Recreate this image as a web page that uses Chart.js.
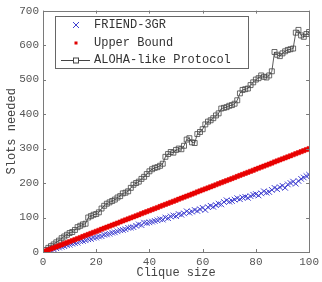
<!DOCTYPE html>
<html>
<head>
<meta charset="utf-8">
<script src="https://cdn.jsdelivr.net/npm/chart.js@4.4.0/dist/chart.umd.min.js"></script>
<style>
  html, body { margin: 0; padding: 0; background: #fff; }
  canvas { display: block; }
</style>
</head>
<body>
<canvas id="slotsChart" width="322" height="282"></canvas>
<script>
// clique sizes 1..100
var cliqueSizes = [];
for (var i = 1; i <= 100; i++) cliqueSizes.push(i);

var seriesNames = ['FRIEND-3GR', 'Upper Bound', 'ALOHA-like Protocol'];

var friendSlots = [
    2, 4, 7, 8, 11, 13, 15, 17, 20, 21,
    24, 26, 27, 31, 32, 34, 37, 38, 41, 42,
    45, 46, 50, 51, 53, 56, 57, 60, 63, 64,
    66, 70, 71, 72, 76, 80, 78, 85, 84, 86,
    88, 90, 92, 95, 94, 100, 98, 103, 106, 104,
    110, 108, 112, 118, 114, 117, 122, 119, 124, 128,
    122, 130, 134, 131, 136, 140, 138, 145, 150, 146,
    148, 152, 156, 153, 158, 160, 157, 162, 166, 168,
    164, 170, 176, 172, 174, 180, 186, 182, 188, 192,
    186, 196, 200, 204, 198, 206, 212, 216, 220, 224
];

var upperBound = [
    3, 6, 9, 12, 15, 18, 21, 24, 27, 30,
    33, 36, 39, 42, 45, 48, 51, 54, 57, 60,
    63, 66, 69, 72, 75, 78, 81, 84, 87, 90,
    93, 96, 99, 102, 105, 108, 111, 114, 117, 120,
    123, 126, 129, 132, 135, 138, 141, 144, 147, 150,
    153, 156, 159, 162, 165, 168, 171, 174, 177, 180,
    183, 186, 189, 192, 195, 198, 201, 204, 207, 210,
    213, 216, 219, 222, 225, 228, 231, 234, 237, 240,
    243, 246, 249, 252, 255, 258, 261, 264, 267, 270,
    273, 276, 279, 282, 285, 288, 291, 294, 297, 300
];

var alohaSlots = [
    6, 12, 17, 22, 28, 33, 40, 45, 50, 55,
    58, 64, 72, 76, 80, 82, 100, 104, 108, 110,
    115, 126, 134, 140, 144, 148, 152, 158, 162, 170,
    172, 176, 186, 195, 200, 204, 212, 218, 226, 234,
    240, 244, 246, 250, 256, 276, 284, 290, 288, 296,
    300, 298, 308, 326, 330, 318, 316, 342, 348, 356,
    370, 378, 382, 388, 396, 402, 416, 418, 420, 424,
    426, 430, 440, 460, 470, 472, 474, 484, 492, 500,
    504, 512, 508, 506, 512, 524, 580, 572, 568, 576,
    582, 586, 588, 590, 636, 644, 628, 624, 632, 638
];

var xTicks = [0, 20, 40, 60, 80, 100];
var yTicks = [0, 100, 200, 300, 400, 500, 600, 700];

function toPoints(values) {
    return values.map(function (v, i) { return { x: cliqueSizes[i], y: v }; });
}

var monoFont = '"Liberation Mono", "DejaVu Sans Mono", monospace';
var frameColor = '#7a7a7a';

// MATLAB style box with inward ticks on all four sides, plus the legend
var boxPlugin = {
    id: 'boxTicks',
    afterDatasetsDraw: function (chart) {
        var ctx = chart.ctx;
        var a = chart.chartArea;
        var xs = chart.scales.x, ys = chart.scales.y;
        ctx.save();
        ctx.strokeStyle = frameColor;
        ctx.lineWidth = 1;
        ctx.strokeRect(Math.round(a.left) + 0.5, Math.round(a.top) + 0.5,
            Math.round(a.right - a.left), Math.round(a.bottom - a.top));
        ctx.beginPath();
        xTicks.forEach(function (t) {
            var px = Math.round(xs.getPixelForValue(t)) + 0.5;
            ctx.moveTo(px, a.bottom); ctx.lineTo(px, a.bottom - 3);
            ctx.moveTo(px, a.top); ctx.lineTo(px, a.top + 3);
        });
        yTicks.forEach(function (t) {
            var py = Math.round(ys.getPixelForValue(t)) + 0.5;
            ctx.moveTo(a.left, py); ctx.lineTo(a.left + 3, py);
            ctx.moveTo(a.right, py); ctx.lineTo(a.right - 3, py);
        });
        ctx.stroke();
        ctx.restore();
    },
    afterDraw: function (chart) {
        var ctx = chart.ctx;
        ctx.save();
        ctx.fillStyle = '#fff';
        ctx.fillRect(55, 16, 193, 52);
        ctx.strokeStyle = '#666';
        ctx.lineWidth = 1;
        ctx.strokeRect(55.5, 16.5, 193, 52);
        ctx.font = '12px ' + monoFont;
        ctx.textBaseline = 'middle';
        ctx.fillStyle = '#333';
        var rows = [25, 43, 60];
        rows.forEach(function (y, i) {
            ctx.fillText(seriesNames[i], 94, y);
        });
        // marker samples
        ctx.strokeStyle = '#4040d0';
        ctx.beginPath();
        ctx.moveTo(73, 22); ctx.lineTo(79, 28);
        ctx.moveTo(79, 22); ctx.lineTo(73, 28);
        ctx.stroke();
        ctx.fillStyle = '#e00000';
        ctx.fillRect(74.5, 41.5, 3, 3);
        ctx.strokeStyle = '#444';
        ctx.beginPath();
        ctx.moveTo(61, 60.5); ctx.lineTo(90, 60.5);
        ctx.stroke();
        ctx.fillStyle = '#fff';
        ctx.fillRect(73.5, 58, 5, 5);
        ctx.strokeRect(73.5, 58, 5, 5);
        ctx.restore();
    }
};

var ctx = document.getElementById('slotsChart').getContext('2d');
var slotsChart = new Chart(ctx, {
    type: 'scatter',
    data: {
        datasets: [{
            label: seriesNames[0],
            data: toPoints(friendSlots),
            showLine: false,
            pointStyle: 'crossRot',
            pointRadius: 4,
            borderColor: '#4040d0',
            borderWidth: 1,
            order: 3
        }, {
            label: seriesNames[1],
            data: toPoints(upperBound),
            showLine: false,
            pointStyle: 'rect',
            pointRadius: 3,
            backgroundColor: '#e80000',
            borderColor: '#e80000',
            borderWidth: 0.5,
            order: 1
        }, {
            label: seriesNames[2],
            data: toPoints(alohaSlots),
            showLine: true,
            borderColor: '#333',
            borderWidth: 0.8,
            pointStyle: 'rect',
            pointRadius: 3.5,
            pointBackgroundColor: 'rgba(255,255,255,0)',
            pointBorderColor: '#444',
            pointBorderWidth: 0.8,
            order: 2
        }]
    },
    options: {
        responsive: false,
        animation: false,
        layout: { padding: { top: 7, right: 7, left: 0, bottom: 0 } },
        scales: {
            x: {
                type: 'linear',
                min: 0,
                max: 100,
                afterBuildTicks: function (axis) {
                    axis.ticks = xTicks.map(function (v) { return { value: v }; });
                },
                afterFit: function (axis) { axis.height = 30; },
                grid: { display: false, drawTicks: false },
                border: { display: false },
                ticks: {
                    color: '#555',
                    padding: 3,
                    maxRotation: 0,
                    font: { family: monoFont, size: 11 }
                },
                title: {
                    display: true,
                    text: 'Clique size',
                    color: '#444',
                    padding: { top: 0, bottom: 2 },
                    font: { family: monoFont, size: 12 }
                }
            },
            y: {
                min: 0,
                max: 700,
                afterBuildTicks: function (axis) {
                    axis.ticks = yTicks.map(function (v) { return { value: v }; });
                },
                afterFit: function (axis) { axis.width = 43; },
                grid: { display: false, drawTicks: false },
                border: { display: false },
                ticks: {
                    color: '#555',
                    padding: 4,
                    font: { family: monoFont, size: 11 }
                },
                title: {
                    display: true,
                    text: 'Slots needed',
                    color: '#444',
                    padding: { top: 5, bottom: 0 },
                    font: { family: monoFont, size: 12 }
                }
            }
        },
        plugins: {
            legend: { display: false },
            tooltip: { enabled: false }
        }
    },
    plugins: [boxPlugin]
});
</script>
</body>
</html>
